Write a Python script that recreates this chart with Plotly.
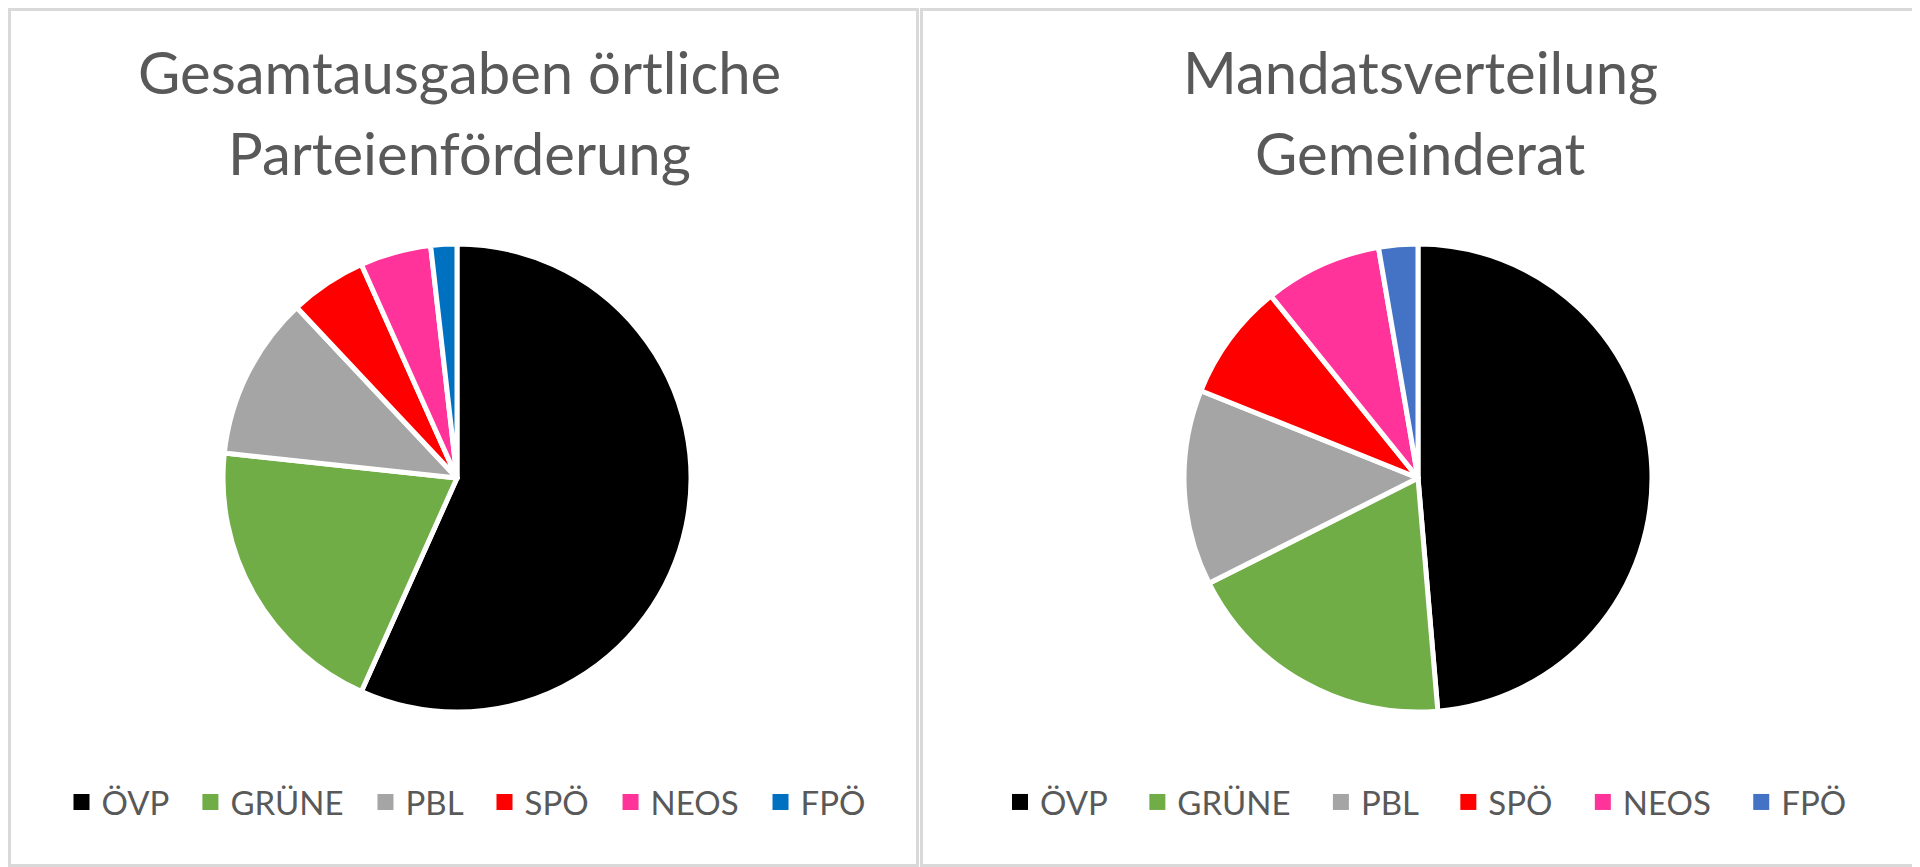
import plotly.graph_objects as go

parteien = ["ÖVP", "GRÜNE", "PBL", "SPÖ", "NEOS", "FPÖ"]

# Anteile Gesamtausgaben (in %, aus dem Diagramm geschätzt)
ausgaben = [56.7, 20.0, 11.3, 5.3, 4.9, 1.8]
# Mandate im Gemeinderat
mandate = [18, 7, 5, 3, 3, 1]

farben_links = ["#000000", "#70ad47", "#a5a5a5", "#ff0000", "#ff3399", "#0070c0"]
farben_rechts = ["#000000", "#70ad47", "#a5a5a5", "#ff0000", "#ff3399", "#4472c4"]

titel_links = ["Gesamtausgaben örtliche", "Parteienförderung"]
titel_rechts = ["Mandatsverteilung", "Gemeinderat"]

W, H = 1920, 867
schrift = "Lato"
grau = "#595959"
rahmen = "#d9d9d9"

# Seite hat 8px Rand -> alles in Figurkoordinaten um 8px verschoben
def px(x):
    return x / W

def py(y):  # y von oben gemessen
    return 1 - y / H

fig = go.Figure()

R = 234
for cx, werte, farben in [(449, ausgaben, farben_links), (1410, mandate, farben_rechts)]:
    fig.add_trace(go.Pie(
        labels=parteien, values=werte, sort=False, direction="clockwise",
        marker=dict(colors=farben, line=dict(color="white", width=5)),
        textinfo="none", hoverinfo="label+value+percent", showlegend=False,
        domain=dict(x=[px(cx - R), px(cx + R)], y=[py(470 + R), py(470 - R)]),
    ))

# Legenden (eigene Einträge, damit die Farbquadrate groß genug sind)
for leg, farben, abstand in [("legend", farben_links, "\u00a0\u00a0"),
                             ("legend2", farben_rechts, "\u00a0\u00a0\u00a0")]:
    for i, (name, c) in enumerate(zip(parteien, farben)):
        fig.add_trace(go.Scatter(
            x=[None], y=[None], mode="markers",
            marker=dict(symbol="square", size=16, color=c),
            name=name + (abstand if i < len(parteien) - 1 else ""),
            legend=leg, hoverinfo="skip",
        ))

# Titel
for cx, zeilen in [(451, titel_links), (1412, titel_rechts)]:
    for i, txt in enumerate(zeilen):
        fig.add_annotation(
            text=txt, x=px(cx), y=py(64 + i * 80), xref="paper", yref="paper",
            xanchor="center", yanchor="middle", showarrow=False,
            font=dict(family=schrift, size=58, color=grau),
        )

# Rahmen der beiden Diagrammflächen
for x0, x1 in [(1.5, 909.5), (913.5, 1910.5)]:
    fig.add_shape(type="rect", xref="paper", yref="paper",
                  x0=px(x0), x1=px(x1), y0=py(857.5), y1=py(1.5),
                  line=dict(color=rahmen, width=3))

leg_stil = dict(orientation="h", xanchor="center", yanchor="middle", y=py(794),
                font=dict(family=schrift, size=33, color=grau),
                bgcolor="rgba(0,0,0,0)", itemwidth=30, itemclick=False)

fig.update_layout(
    width=W, height=H,
    margin=dict(l=0, r=0, t=0, b=0),
    paper_bgcolor="white", plot_bgcolor="white",
    xaxis=dict(visible=False), yaxis=dict(visible=False),
    legend=dict(leg_stil, x=px(458)),
    legend2=dict(leg_stil, x=px(1418)),
    showlegend=True,
)

fig.write_html("out.html")
